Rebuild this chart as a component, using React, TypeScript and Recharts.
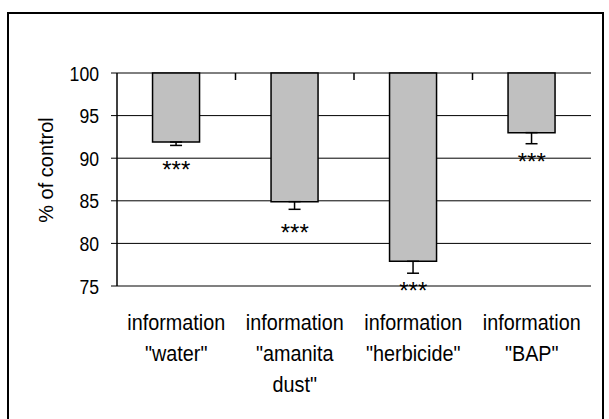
import { ComposedChart, Bar, Line, ErrorBar, XAxis, YAxis, CartesianGrid } from 'recharts';

const categories = ['information\n"water"', 'information\n"amanita\ndust"', 'information\n"herbicide"', 'information\n"BAP"'];
const values = [91.9, 84.9, 77.9, 93.0];
const errors = [0.4, 0.9, 1.4, 1.3];
const starLevels = [89.2, 81.8, 75.0, 90.1];
const yTicks = [75, 80, 85, 90, 95, 100];

const FONT = "'Liberation Sans', Arial, sans-serif";

const data = categories.map((name, i) => ({
  name,
  range: [100, values[i]],
  err: [errors[i], 0],
  stars: starLevels[i],
}));

function YTick({ x, y, payload }: any) {
  return (
    <text transform={`translate(${x},${y}) scale(0.84,1)`} textAnchor="end" dy="0.36em" fontSize={21} fontFamily={FONT} fill="#000">
      {payload.value}
    </text>
  );
}

function XTick({ x, y, payload }: any) {
  const lines = String(payload.value).split('\n');
  return (
    <g transform={`translate(${x},${y}) scale(0.9,1)`}>
      {lines.map((l, i) => (
        <text key={i} x={0} y={44 + i * 31} textAnchor="middle" fontSize={22} fontFamily={FONT} fill="#000">
          {l}
        </text>
      ))}
    </g>
  );
}

// inward tick marks on the top edge, at the right boundary of each category
function EdgeTick({ x, y, payload, index, visibleTicksCount }: any) {
  if (index >= (visibleTicksCount ?? categories.length) - 1) return <g />;
  const bx = x + (payload?.offset ?? 0);
  return <line x1={bx} x2={bx} y1={y} y2={y + 7} stroke="#000" strokeWidth={1.5} />;
}

function Stars({ cx, cy, index }: any) {
  return (
    <text key={index} x={cx} y={cy + 13} textAnchor="middle" fontSize={24} fontFamily={FONT} fill="#000">
      ***
    </text>
  );
}

export default function App() {
  return (
    <div style={{ position: 'absolute', left: 0, top: 0, width: 609, height: 419, overflow: 'hidden', background: '#fff' }}>
      <div style={{ position: 'absolute', left: 7, top: 12, width: 593, height: 440, border: '2px solid #000' }} />
      <div style={{ position: 'absolute', left: 0, top: 0 }}>
        <ComposedChart width={609} height={419} data={data} margin={{ top: 72, right: 18, bottom: 0, left: 57 }} barCategoryGap="30%">
          <CartesianGrid horizontal vertical={false} stroke="#000" strokeWidth={1} />
          <XAxis dataKey="name" height={133} interval={0} tickLine={false} tickSize={0} tickMargin={0} axisLine={{ stroke: '#808080', strokeWidth: 2 }} tick={<XTick />} />
          <XAxis xAxisId="top" dataKey="name" orientation="top" interval={0} height={1} tickSize={0} tickMargin={0} tickLine={false} axisLine={false} tick={<EdgeTick />} />
          <YAxis domain={[75, 100]} ticks={yTicks} width={60} tickSize={6} tickMargin={12} axisLine={{ stroke: '#000', strokeWidth: 1.5 }} tickLine={{ stroke: '#000' }} tick={<YTick />}
            label={{ content: () => (
              <text transform="translate(46,170) rotate(-90)" textAnchor="middle" dy="0.35em" fontSize={20} fontFamily={FONT} fill="#000">% of control</text>
            ) }} />
          <YAxis yAxisId="right" orientation="right" width={0} domain={[75, 100]} tick={false} tickLine={false} axisLine={{ stroke: '#808080', strokeWidth: 2 }} />
          <Bar dataKey="range" fill="#c0c0c0" stroke="#000" strokeWidth={1.5} isAnimationActive={false}>
            <ErrorBar dataKey="err" direction="y" width={6} stroke="#000" strokeWidth={1.5} />
          </Bar>
          <Line xAxisId="top" dataKey="stars" stroke="none" dot={<Stars />} activeDot={false} isAnimationActive={false} />
        </ComposedChart>
      </div>
    </div>
  );
}
